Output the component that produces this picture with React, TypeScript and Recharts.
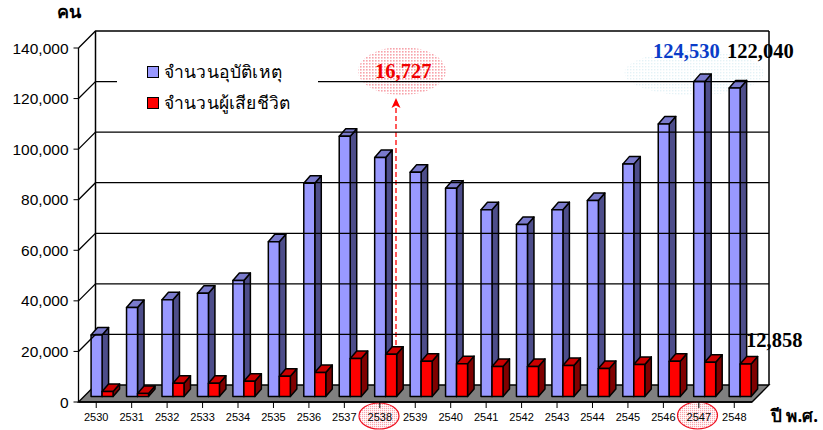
import React from 'react';
import { BarChart, Bar, XAxis, YAxis, ReferenceLine, Legend } from 'recharts';

const years = ['2530','2531','2532','2533','2534','2535','2536','2537','2538','2539','2540','2541','2542','2543','2544','2545','2546','2547','2548'];
const accidents = [24300,35200,38300,40800,45900,61200,84300,102900,94500,88700,82400,73900,68000,73900,77500,91900,107800,124530,122040];
const deaths = [2000,1200,5200,5200,6000,8000,9500,15000,16727,13900,13000,11900,11900,12300,11100,12700,13900,13500,12858];
const yTicks = [0,20000,40000,60000,80000,100000,120000,140000];
const legendNames = ['จำนวนอุบัติเหตุ','จำนวนผู้เสียชีวิต'];
const data = years.map((year, i) => ({ year, accidents: accidents[i], deaths: deaths[i] }));

const W = 823, H = 430;
const LEFT = 78.5, RIGHT = 752, TOP = 48, BOTTOM = 402;
const DEPTH = 17;
const BAR_D = 5.5;
const SERIF = '"Liberation Serif", serif';
const SANS = '"Liberation Sans", Arial, sans-serif';
const THAI = '"Noto Sans", "DejaVu Sans", sans-serif';

const Bar3D = ({ x, y, width, height, front, side, top }: any) => {
  const l = x + BAR_D, r = l + width, t = y - BAR_D, b = t + height, d = 6.5, e = 7.5;
  return (
    <g stroke="#000" strokeWidth={1.5} strokeLinejoin="round">
      <polygon points={`${r},${t} ${r + d},${t - e} ${r + d},${b - e} ${r},${b}`} fill={side} />
      <polygon points={`${l},${t} ${l + d},${t - e} ${r + d},${t - e} ${r},${t}`} fill={top} />
      <rect x={l} y={t} width={width} height={height} fill={front} />
    </g>
  );
};

const WallLine = ({ x1, y1, x2, ...rest }: any) => {
  const y = y1 ?? rest.y;
  return <path d={`M${x1},${y}L${x1 + DEPTH},${y - DEPTH}L${x2 + DEPTH},${y - DEPTH}`} fill="none" stroke="#000" strokeWidth={1.3} />;
};

const LegendBox = () => (
  <div style={{ fontFamily: THAI, fontSize: 17.5, letterSpacing: 0.2, color: '#000', width: 171, paddingLeft: 30, fontWeight: 500, background: '#fff' }}>
    {legendNames.map((n, i) => (
      <div key={n} style={{ display: 'flex', alignItems: 'center', height: 31, whiteSpace: 'nowrap' }}>
        <span style={{ width: 10, height: 10, marginRight: 5, background: i ? '#f00' : '#99f', border: '1px solid #000', display: 'inline-block' }} />
        {n}
      </div>
    ))}
  </div>
);

const Tick = ({ x, y, payload }: any) => (
  <text x={x} y={y + 11} textAnchor="middle" fontFamily={SANS} fontSize={11} fill="#000">{payload.value}</text>
);

export default function App() {
  return (
    <div style={{ position: 'absolute', left: 0, top: 0, width: W, height: H, background: '#fff' }}>
      <BarChart width={W} height={H} data={data} barGap={0} barCategoryGap="20%"
        margin={{ left: 0, right: W - RIGHT, top: TOP, bottom: 0 }}>
        <defs>
          <pattern id="pinkDots" width="3" height="3" patternUnits="userSpaceOnUse"><rect width="1.6" height="1.6" fill="#f7a3ab" /></pattern>
          <pattern id="labelDots" width="2" height="2" patternUnits="userSpaceOnUse"><rect width="1.2" height="1.2" fill="#f7a3ab" /></pattern>
          <pattern id="blueDots" width="3" height="3" patternUnits="userSpaceOnUse"><rect width="1.4" height="1.4" fill="#e4f2f6" /></pattern>
        </defs>
        <polygon points={`${LEFT},${BOTTOM} ${LEFT + DEPTH},${BOTTOM - DEPTH} ${RIGHT + DEPTH},${BOTTOM - DEPTH} ${RIGHT},${BOTTOM}`} fill="#808080" stroke="#000" strokeWidth={1.3} />
        <path d={`M${LEFT + DEPTH},${BOTTOM - DEPTH}V${TOP - DEPTH}M${RIGHT + DEPTH},${BOTTOM - DEPTH}V${TOP - DEPTH}`} stroke="#000" strokeWidth={1.5} fill="none" />
        <XAxis dataKey="year" interval={0} height={H - BOTTOM} tickSize={6} tick={<Tick />} tickLine={{ stroke: '#000' }} axisLine={{ stroke: '#000', strokeWidth: 1.3 }} />
        <YAxis width={LEFT} domain={[0, 140000]} ticks={yTicks} interval={0} tickSize={5} tickMargin={5} tickFormatter={(v: number) => v.toLocaleString('en-US')}
          tick={{ fontFamily: SANS, fontSize: 15.5, fill: '#000' }} tickLine={{ stroke: '#000' }} axisLine={{ stroke: '#000', strokeWidth: 1.3 }} />
        {yTicks.filter((t) => t > 0).map((t) => <ReferenceLine key={t} y={t} shape={<WallLine />} />)}
        <Bar dataKey="accidents" isAnimationActive={false} shape={<Bar3D front="#9999ff" side="#4d4d8a" top="#7a7acc" />} />
        <Bar dataKey="deaths" isAnimationActive={false} shape={<Bar3D front="#ff0000" side="#800000" top="#cc0000" />} />
        <ellipse cx={402} cy={71} rx={44} ry={24} fill="url(#pinkDots)" />
        <ellipse cx={694} cy={73} rx={70} ry={23} fill="url(#blueDots)" stroke="#fff" strokeWidth={1.2} />
        <ellipse cx={379} cy={416} rx={20} ry={13} fill="url(#labelDots)" stroke="#f01020" strokeWidth={1.2} />
        <ellipse cx={697.5} cy={415.5} rx={20} ry={13.5} fill="url(#labelDots)" stroke="#f01020" strokeWidth={1.2} />
        <path d="M396,345V106" stroke="#f00" strokeWidth={1.3} strokeDasharray="5 3" fill="none" />
        <polygon points="396,98 391.5,108 396,105.5 400.5,108" fill="#f00" />
        <text x={375} y={78} fontFamily={SERIF} fontWeight="bold" fontSize={20.5} fill="#f00000">16,727</text>
        <text x={653} y={58} fontFamily={SERIF} fontWeight="bold" fontSize={20.5} fill="#0a3cc8">124,530</text>
        <text x={727} y={58} fontFamily={SERIF} fontWeight="bold" fontSize={20.5} fill="#000">122,040</text>
        <text x={746} y={347} fontFamily={SERIF} fontWeight="bold" fontSize={20.5} fill="#000">12,858</text>
        <text x={57} y={18} fontFamily={THAI} fontWeight="bold" fontSize={18} fill="#000">คน</text>
        <text x={771} y={422} fontFamily={THAI} fontWeight="bold" fontSize={17} fill="#000">ปี พ.ศ.</text>
        <Legend layout="vertical" align="center" verticalAlign="middle" content={<LegendBox />} wrapperStyle={{ left: 117, top: 56, width: 201 }} />
      </BarChart>
    </div>
  );
}
